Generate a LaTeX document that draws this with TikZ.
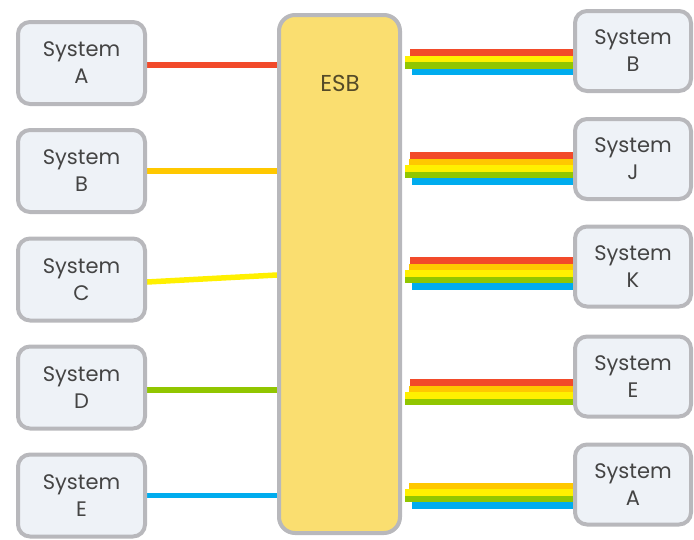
\documentclass[tikz,border=0pt]{standalone}
\usepackage{fontspec}
\setmainfont{Poppins}
\usetikzlibrary{calc,backgrounds}

\definecolor{busred}{RGB}{242,74,42}
\definecolor{busorange}{RGB}{255,200,0}
\definecolor{busyellow}{RGB}{255,240,0}
\definecolor{busgreen}{RGB}{145,198,0}
\definecolor{busblue}{RGB}{0,172,238}
\definecolor{boxgray}{RGB}{184,184,188}
\definecolor{boxfill}{RGB}{238,242,247}
\definecolor{esbfill}{RGB}{250,222,112}
\definecolor{txtgray}{RGB}{68,68,68}
\definecolor{esbtext}{RGB}{84,74,40}

\begin{document}
\begin{tikzpicture}[x=1pt,y=-1pt,
    system/.style={draw=boxgray, line width=4pt, fill=boxfill,
        rounded corners=12pt, align=center, text=txtgray, inner sep=0pt,
        font=\fontsize{21}{27}\selectfont},
    wire/.style={line width=5.5pt},
    stripe/.style={line width=6.8pt}]
    \useasboundingbox (0,0) rectangle (694,539);

    % the bus in the middle
    \node[draw=boxgray, line width=4pt, fill=esbfill, rounded corners=16pt,
        minimum width=121pt, minimum height=518pt] (esb) at (339.5,274) {};
    \node[text=esbtext, font=\fontsize{23}{26}\selectfont] (esblabel) at (340,83) {ESB};

    % senders on the left
    \node[system, minimum width=127pt, minimum height=82pt] (la) at (81.5,63) {System\\A};
    \node[system, minimum width=127pt, minimum height=82pt] (lb) at (81.5,171) {System\\B};
    \node[system, minimum width=127pt, minimum height=82pt] (lc) at (81.5,279.5) {System\\C};
    \node[system, minimum width=127pt, minimum height=82pt] (ld) at (81.5,387.5) {System\\D};
    \node[system, minimum width=127pt, minimum height=82pt] (le) at (81.5,495.5) {System\\E};

    % receivers on the right
    \node[system, minimum width=116pt, minimum height=80pt] (rb) at (633,51) {System\\B};
    \node[system, minimum width=116pt, minimum height=80pt] (rj) at (633,159) {System\\J};
    \node[system, minimum width=116pt, minimum height=80pt] (rk) at (633,266.5) {System\\K};
    \node[system, minimum width=116pt, minimum height=80pt] (re) at (633,376.5) {System\\E};
    \node[system, minimum width=116pt, minimum height=80pt] (ra) at (633,484.5) {System\\A};

    \begin{pgfonlayer}{background}
        % one wire per sender
        \draw[wire, busred] ($(la.east)+(0,2)$) -- ($(la.east -| esb.west)+(0,2)$);
        \draw[wire, busorange] (lb.east) -- (lb.east -| esb.west);
        \draw[wire, busyellow] ($(lc.east)+(0,2.5)$) -- ($(lc.east -| esb.west)+(0,-4.5)$);
        \draw[wire, busgreen] ($(ld.east)+(0,2.5)$) -- ($(ld.east -| esb.west)+(0,2.5)$);
        \draw[wire, busblue] (le.east) -- (le.east -| esb.west);

        % bundles: box / top stripe / colour and start offset
        \foreach \rcv/\top/\cols in {
            rb/52.5/{busred/8,busyellow/3,busgreen/3,busblue/10},
            rj/155.5/{busred/8,busorange/7,busyellow/3,busgreen/3,busblue/10},
            rk/260.5/{busred/8,busorange/7,busyellow/3,busgreen/3,busblue/10},
            re/382.5/{busred/8,busorange/7,busyellow/3,busgreen/3},
            ra/486/{busorange/7,busyellow/3,busgreen/3,busblue/10}}
            \foreach \c/\s [count=\i from 0] in \cols
                \draw[stripe, \c] ($(esb.east |- 0,\top)+(\s,6.5*\i)$)
                    -- ($(\rcv.west |- 0,\top)+(0,6.5*\i)$);
    \end{pgfonlayer}
\end{tikzpicture}
\end{document}
